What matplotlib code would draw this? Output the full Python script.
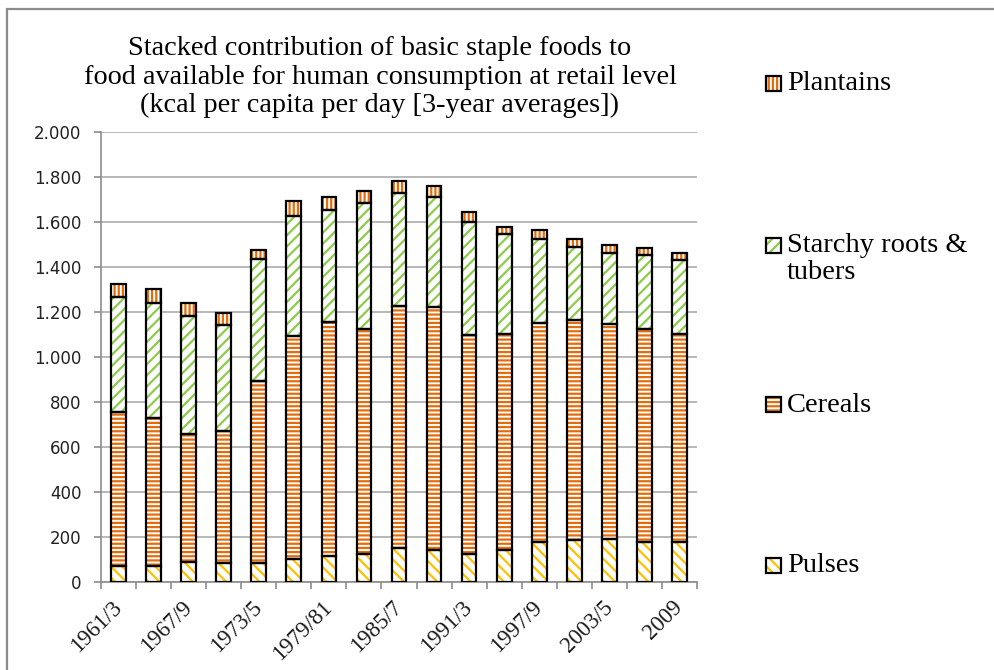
import matplotlib
matplotlib.use("Agg")
import matplotlib.pyplot as plt
from matplotlib.patches import Rectangle
from matplotlib.ticker import FuncFormatter, FixedLocator
import numpy as np

# ---------------- data ----------------
periods = ["1961/3", "1964/6", "1967/9", "1970/2", "1973/5", "1976/8", "1979/81",
           "1982/4", "1985/7", "1988/90", "1991/3", "1994/6", "1997/9", "2000/2",
           "2003/5", "2006/8", "2009"]
shown_labels = ["1961/3", "", "1967/9", "", "1973/5", "", "1979/81", "", "1985/7",
                "", "1991/3", "", "1997/9", "", "2003/5", "", "2009"]
pulses = [71, 71, 90, 85, 85, 104, 114, 126, 150, 141, 126, 141, 177, 187, 193, 178, 178]
cereals = [683, 659, 569, 587, 808, 991, 1041, 999, 1077, 1082, 973, 963, 973, 978, 952, 947, 924]
starchy = [513, 509, 525, 472, 542, 533, 499, 559, 504, 488, 503, 442, 375, 323, 319, 330, 330]
plantains = [58, 65, 55, 53, 41, 65, 57, 53, 52, 47, 43, 31, 39, 35, 32, 30, 32]

series_names = ["Pulses", "Cereals", "Starchy roots &\ntubers", "Plantains"]
series_values = [pulses, cereals, starchy, plantains]
series_colors = ["#FFC000", "#E46C0A", "#8DCB4A", "#E46C0A"]
series_hatches = ["\\\\\\", "----", "///", "||||"]

title = ("Stacked contribution of basic staple foods to\n"
         "food available for human consumption at retail level\n"
         "(kcal per capita per day [3-year averages])")
yticks = [0, 200, 400, 600, 800, 1000, 1200, 1400, 1600, 1800, 2000]

# ---------------- figure ----------------
W, H = 995, 670
plt.rcParams["hatch.linewidth"] = 1.6
fig = plt.figure(figsize=(W / 100, H / 100), dpi=100)
fig.patch.set_facecolor("white")

# outer chart border (extends off the right/bottom edge)
fig.patches.append(Rectangle((7 / W, -0.05), 1.2, (H - 9) / H + 0.05,
                             transform=fig.transFigure, fill=False,
                             edgecolor="#8C8C8C", linewidth=1.6, zorder=0))

ax = fig.add_axes([101 / W, (H - 582) / H, 596 / W, 450 / H])
x = np.arange(len(periods))
bw = 0.42
bottom = np.zeros(len(periods))
for vals, col, hat in zip(series_values, series_colors, series_hatches):
    v = np.array(vals, dtype=float)
    ax.bar(x, v, bw, bottom=bottom, color="white", edgecolor=col, hatch=hat,
           linewidth=0, zorder=2)
    ax.bar(x, v, bw, bottom=bottom, fill=False, edgecolor="black",
           linewidth=1.6, zorder=3)
    bottom += v

ax.set_xlim(-0.5, len(periods) - 0.5)
ax.set_ylim(0, 2000)
ax.set_yticks(yticks)
ax.yaxis.set_major_formatter(FuncFormatter(lambda v, p: f"{int(v):,}".replace(",", ".")))
ax.grid(axis="y", color="#ABABAB", linewidth=1.2, zorder=0)
ax.set_axisbelow(True)

for s in ["top", "right"]:
    ax.spines[s].set_visible(False)
for s in ["left", "bottom"]:
    ax.spines[s].set_color("#8C8C8C")
    ax.spines[s].set_linewidth(1.2)

# x ticks between categories, labels at categories
ax.set_xticks(x)
ax.set_xticklabels(shown_labels, rotation=45, ha="right", va="center",
                   rotation_mode="anchor",
                   fontfamily="Liberation Serif", fontsize=16.5, color="#1a1a1a")
ax.tick_params(axis="x", which="major", length=0, pad=16)
ax.xaxis.set_minor_locator(FixedLocator(np.arange(-0.5, len(periods), 1.0)))
ax.tick_params(axis="x", which="minor", length=5, color="#8C8C8C", width=1.2)
ax.tick_params(axis="y", length=5, color="#8C8C8C", width=1.2, pad=9,
               labelsize=12, labelcolor="#222222")
for lbl in ax.get_yticklabels():
    lbl.set_fontfamily("DejaVu Sans")

# title
fig.text(380 / W, 1 - 36 / H, title, ha="center", va="top",
         fontfamily="Liberation Serif", fontsize=20.3, linespacing=1.19,
         color="black")

# legend (manual, Excel-like spread)
legend_rows = [("Plantains", 3, 83), ("Starchy roots &\ntubers", 2, 245),
               ("Cereals", 1, 405), ("Pulses", 0, 565)]
for name, idx, yc in legend_rows:
    sz = 15
    fig.patches.append(Rectangle((766 / W, 1 - (yc + sz / 2) / H), sz / W, sz / H,
                                 transform=fig.transFigure, facecolor="white",
                                 edgecolor=series_colors[idx], hatch=series_hatches[idx],
                                 linewidth=0, zorder=3))
    fig.patches.append(Rectangle((766 / W, 1 - (yc + sz / 2) / H), sz / W, sz / H,
                                 transform=fig.transFigure, fill=False,
                                 edgecolor="black", linewidth=1.6, zorder=4))
    fig.text(787 / W, 1 - (yc - 12) / H, name, ha="left", va="top",
             fontfamily="Liberation Serif", fontsize=20.5, linespacing=1.12,
             color="black")

fig.savefig("out.png", dpi=100, facecolor="white")
